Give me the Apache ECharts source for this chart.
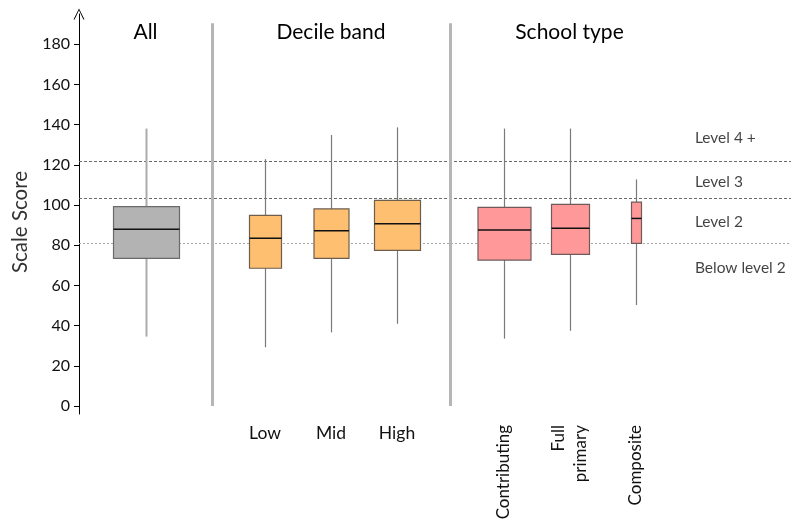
<!DOCTYPE html>
<html>
<head>
<meta charset="utf-8">
<script src="https://cdn.jsdelivr.net/npm/echarts@6/dist/echarts.min.js"></script>
<style>html,body{margin:0;padding:0;background:#fff;}#c{width:791px;height:521px;}</style>
</head>
<body>
<div id="c"></div>
<script>
// ---- data ----
const panelTitles = ['All', 'Decile band', 'School type'];
const allCats = ['All'];
const decileCats = ['Low', 'Mid', 'High'];
const schoolCats = ['Contributing', 'Full\nprimary', 'Composite'];
// [min, q1, median, q3, max]
const allValues = [[34.5, 73.4, 87.9, 99.2, 138.0]];
const decileValues = [
  [29.2, 68.5, 83.4, 94.8, 122.8],
  [36.6, 73.4, 87.2, 98.0, 134.8],
  [40.9, 77.4, 90.7, 102.3, 138.6]
];
const schoolValues = [
  [33.5, 72.6, 87.5, 98.8, 138.0],
  [37.4, 75.4, 88.4, 100.3, 138.0],
  [50.2, 80.9, 93.3, 101.4, 112.7]
];
const levelCuts = [81.0, 103.3, 121.7];
const levelNames = ['Below level 2', 'Level 2', 'Level 3', 'Level 4 +'];
const yTicks = [0, 20, 40, 60, 80, 100, 120, 140, 160, 180];

// ---- style config ----
const boxWidthPx = { All: [66], Decile: [32, 35, 46], School: [53, 38, 10] };
const FONT = 'Lato, "Open Sans", sans-serif';
const TXT = '#111';
const Y_MIN = -4, Y_MAX = 195;
const gridTop = 14, gridBottom = 107;

function toRows(vals) { return vals.map((v, i) => [i].concat(v)); }

function boxRenderer(fill, border, whisker, whiskerWidth, widths) {
  return function (params, api) {
    const i = api.value(0);
    const lo = api.coord([i, api.value(1)]);
    const q1 = api.coord([i, api.value(2)]);
    const md = api.coord([i, api.value(3)]);
    const q3 = api.coord([i, api.value(4)]);
    const hi = api.coord([i, api.value(5)]);
    const w = widths[params.dataIndex];
    const cx = Math.round(lo[0]) + 0.5;
    return {
      type: 'group',
      children: [
        { type: 'line', shape: { x1: cx, y1: hi[1], x2: cx, y2: lo[1] }, style: { stroke: whisker, lineWidth: whiskerWidth } },
        { type: 'rect', shape: { x: cx - w / 2, y: q3[1], width: w, height: q1[1] - q3[1] }, style: { fill: fill, stroke: border, lineWidth: 1.2 } },
        { type: 'line', shape: { x1: cx - w / 2, y1: md[1], x2: cx + w / 2, y2: md[1] }, style: { stroke: '#111', lineWidth: 1.5 } }
      ]
    };
  };
}

// level label anchors (midpoints of bands, outer ones offset from cuts)
const levelLabelY = [levelCuts[0] - 12.5, (levelCuts[0] + levelCuts[1]) / 2 - 0.5, (levelCuts[1] + levelCuts[2]) / 2 - 1, levelCuts[2] + 11.4];
const levelLabelX = 86.5; // in % of full-width grid

const hiddenY = (gi) => ({
  type: 'value', gridIndex: gi, min: Y_MIN, max: Y_MAX, show: false
});
const catX = (gi, data, labelOpts) => ({
  type: 'category', gridIndex: gi, data: data, boundaryGap: true,
  axisLine: { show: false, onZero: false }, axisTick: { show: false }, splitLine: { show: false },
  axisLabel: Object.assign({ show: true, color: TXT, fontFamily: FONT, fontSize: 17.5, margin: 10, interval: 0 }, labelOpts || {})
});
const titleX = (gi, data, name) => ({
  type: 'category', gridIndex: gi, data: data, position: 'top',
  axisLine: { show: false, onZero: false }, axisTick: { show: false }, axisLabel: { show: false }, splitLine: { show: false },
  name: name, nameLocation: 'middle', nameGap: -29,
  nameTextStyle: { color: '#000', fontFamily: FONT, fontSize: 21 }
});
const mkGrid = (o) => Object.assign({ top: gridTop, bottom: gridBottom, containLabel: false, outerBoundsMode: 'none' }, o);

const option = {
  backgroundColor: '#fff',
  animation: false,
  grid: [
    mkGrid({ left: 79, right: 0 }),
    mkGrid({ left: 79, width: 133 }),
    mkGrid({ left: 232, width: 198 }),
    mkGrid({ left: 470.5, width: 198 })
  ],
  xAxis: [
    { type: 'value', gridIndex: 0, min: 0, max: 100, show: false },
    catX(1, allCats, { show: false }),
    catX(2, decileCats),
    catX(3, schoolCats, { rotate: 90, margin: 11, lineHeight: 22, fontSize: 17 }),
    titleX(1, allCats, panelTitles[0]),
    titleX(2, decileCats, panelTitles[1]),
    titleX(3, schoolCats, panelTitles[2])
  ],
  yAxis: [
    {
      type: 'value', gridIndex: 0, min: Y_MIN, max: Y_MAX,
      name: 'Scale Score', nameLocation: 'middle', nameGap: 47, nameRotate: 90,
      nameTextStyle: { color: '#333', fontFamily: FONT, fontSize: 20.5, padding: [0, 0, 0, -16] },
      axisLine: { show: true, onZero: false, lineStyle: { color: '#000', width: 1 },
        symbol: ['none', 'path://M0,10 L5,0 L10,10 L9,10 L5,1.6 L1,10 Z'], symbolSize: [12, 11], symbolOffset: [0, 0] },
      axisTick: { show: true, inside: false, length: 5, lineStyle: { color: '#000' }, customValues: yTicks },
      axisLabel: { show: true, color: TXT, fontFamily: FONT, fontSize: 16, margin: 9, customValues: yTicks },
      splitLine: { show: false }
    },
    hiddenY(1), hiddenY(2), hiddenY(3)
  ],
  series: [
    {
      type: 'scatter', xAxisIndex: 0, yAxisIndex: 0, symbolSize: 0, silent: true, z: 1,
      data: levelNames.map((n, i) => ({ value: [levelLabelX, levelLabelY[i]], name: n })),
      label: { show: true, position: 'right', distance: 0, formatter: (p) => p.name, color: TXT, fontFamily: FONT, fontSize: 15.5 },
      markLine: {
        silent: true, symbol: 'none', label: { show: false }, animation: false,
        data: [
          { yAxis: levelCuts[0], lineStyle: { color: '#a8a8a8', type: [2, 2], width: 1 } },
          { yAxis: levelCuts[1], lineStyle: { color: '#6a6a6a', type: [3, 2], width: 1 } },
          { yAxis: levelCuts[2], lineStyle: { color: '#6a6a6a', type: [3, 2], width: 1 } },
          [{ coord: [18.68, 0], lineStyle: { color: '#b5b5b5', width: 3, type: 'solid' } }, { coord: [18.68, 190.4] }],
          [{ coord: [52.1, 0], lineStyle: { color: '#b5b5b5', width: 3, type: 'solid' } }, { coord: [52.1, 190.4] }]
        ]
      }
    },
    {
      type: 'custom', xAxisIndex: 1, yAxisIndex: 1, z: 5,
      data: toRows(allValues), encode: { x: 0, y: [1, 2, 3, 4, 5] },
      renderItem: boxRenderer('#b3b3b3', '#6a6a6a', '#ababab', 2, boxWidthPx.All)
    },
    {
      type: 'custom', xAxisIndex: 2, yAxisIndex: 2, z: 5,
      data: toRows(decileValues), encode: { x: 0, y: [1, 2, 3, 4, 5] },
      renderItem: boxRenderer('#ffbf71', '#6e5e4e', '#7a7a7a', 1.2, boxWidthPx.Decile)
    },
    {
      type: 'custom', xAxisIndex: 3, yAxisIndex: 3, z: 5,
      data: toRows(schoolValues), encode: { x: 0, y: [1, 2, 3, 4, 5] },
      renderItem: boxRenderer('#ff9999', '#6e5a5a', '#7a7a7a', 1.2, boxWidthPx.School)
    }
  ]
};

const chart = echarts.init(document.getElementById('c'), null, { renderer: 'canvas' });
chart.setOption(option);
</script>
</body>
</html>
